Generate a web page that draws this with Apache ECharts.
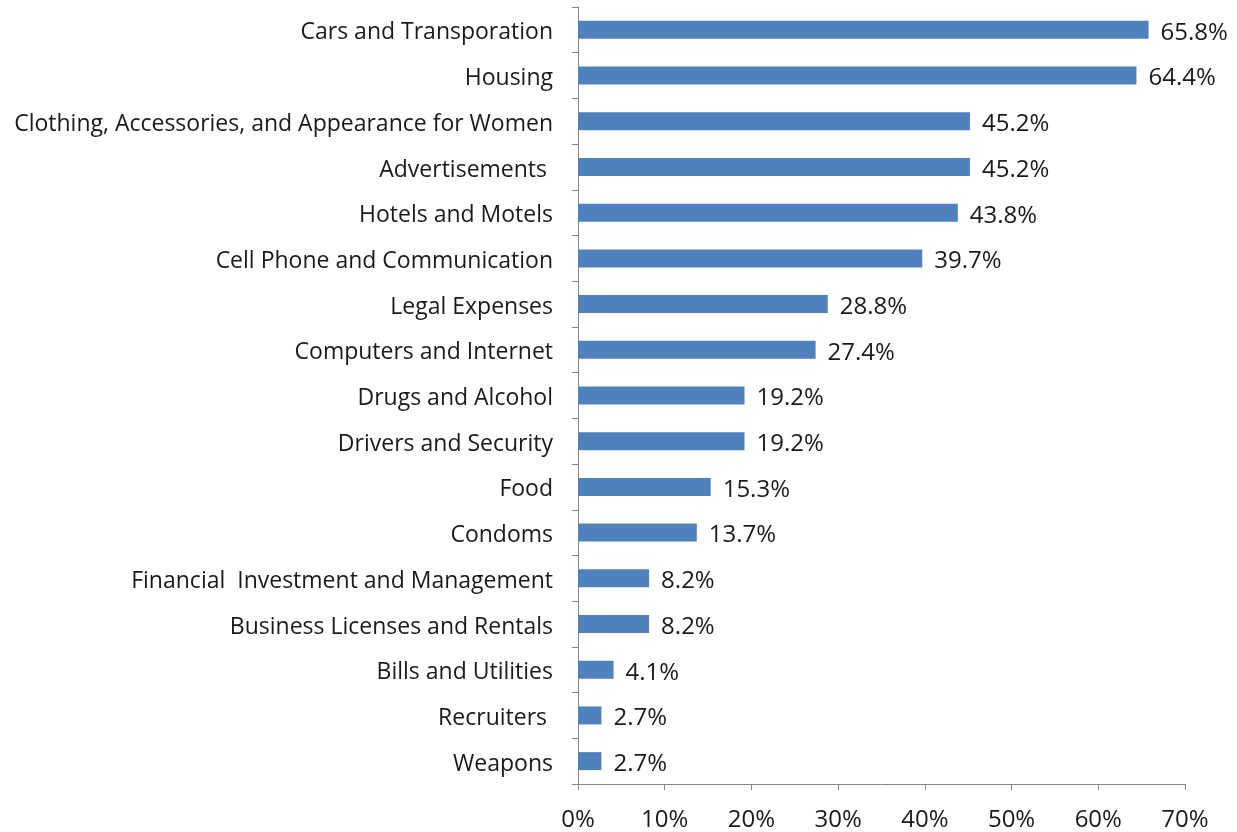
<!DOCTYPE html>
<html>
<head>
<meta charset="utf-8">
<script src="https://cdn.jsdelivr.net/npm/echarts@6/dist/echarts.min.js"></script>
<style>html,body{margin:0;padding:0;background:#fff}#c{width:1237px;height:832px}</style>
</head>
<body>
<div id="c"></div>
<script>
var categories = [
  "Cars and Transporation",
  "Housing",
  "Clothing, Accessories, and Appearance for Women",
  "Advertisements ",
  "Hotels and Motels",
  "Cell Phone and Communication",
  "Legal Expenses",
  "Computers and Internet",
  "Drugs and Alcohol",
  "Drivers and Security",
  "Food",
  "Condoms",
  "Financial  Investment and Management",
  "Business Licenses and Rentals",
  "Bills and Utilities",
  "Recruiters ",
  "Weapons"
];
var values = [65.8, 64.4, 45.2, 45.2, 43.8, 39.7, 28.8, 27.4, 19.2, 19.2, 15.3, 13.7, 8.2, 8.2, 4.1, 2.7, 2.7];
var xTicks = [0, 10, 20, 30, 40, 50, 60, 70];

var font = "'Open Sans', sans-serif";
var chart = echarts.init(document.getElementById('c'));
chart.setOption({
  animation: false,
  grid: { left: 578, right: 52, top: 7, bottom: 46, containLabel: false },
  xAxis: {
    type: 'value', min: xTicks[0], max: xTicks[xTicks.length - 1], interval: 10,
    axisLine: { show: true, lineStyle: { color: '#868686', width: 1 } },
    axisTick: { show: true, length: 6, lineStyle: { color: '#868686' } },
    splitLine: { show: false },
    axisLabel: { formatter: '{value}%', color: '#1a1a1a', fontSize: 24, fontFamily: font, margin: 24 }
  },
  yAxis: {
    type: 'category', data: categories, inverse: true,
    axisLine: { show: true, lineStyle: { color: '#868686', width: 1 } },
    axisTick: { show: true, length: 6, lineStyle: { color: '#868686' } },
    axisLabel: {
      margin: 25,
      formatter: function (v) { return '{a|' + v + '}'; },
      rich: { a: { color: '#1a1a1a', fontSize: 23, fontFamily: font, padding: [6, 0, 0, 0] } }
    }
  },
  series: [{
    type: 'bar', data: values, barWidth: 18,
    itemStyle: { color: '#4F81BD' },
    label: { show: true, position: 'right', distance: 12, offset: [0, 3],
      formatter: function(p){ return p.value.toFixed(1) + '%'; },
      color: '#1a1a1a', fontSize: 24, fontFamily: font }
  }]
});
</script>
</body>
</html>
